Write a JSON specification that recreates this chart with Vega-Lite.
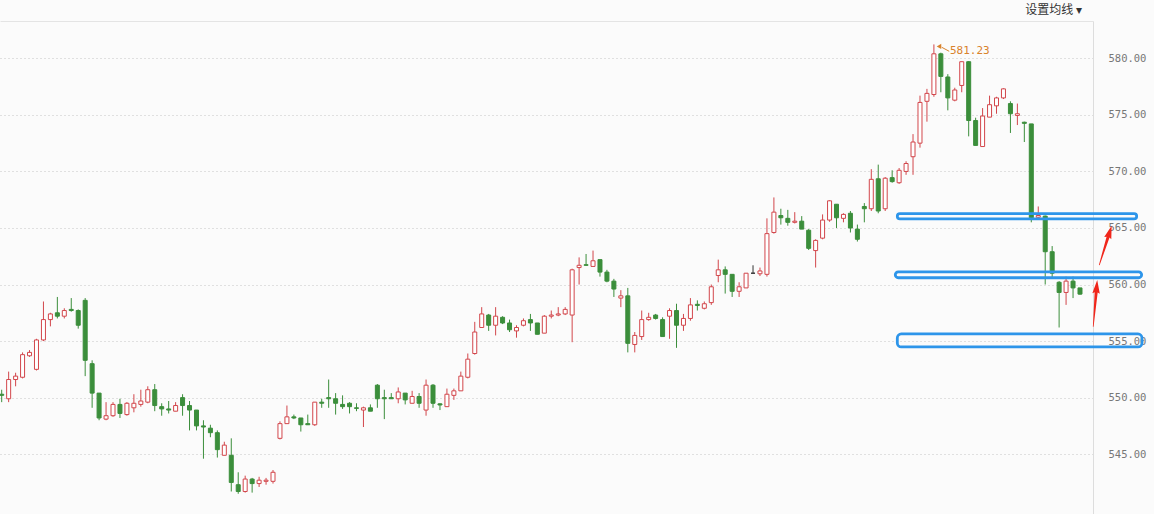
{
  "$schema": "https://vega.github.io/schema/vega-lite/v6.json",
  "width": 1093,
  "height": 493,
  "autosize": "none",
  "padding": {"left": 0, "top": 21, "right": 61, "bottom": 0},
  "background": "#fbfbfb",
  "config": {"view": {"stroke": null, "fill": "#fbfbfb"}, "scale": {"continuousPadding": 0}},
  "title": {"text": "设置均线 ▾", "anchor": "end", "frame": "group", "orient": "top", "offset": 4, "dx": -11, "font": "Noto Sans CJK SC", "fontSize": 12, "fontWeight": "normal", "color": "#333333"},
  "datasets": {
    "candles": [
      {"i":1,"o":550.3,"c":550.2,"h":550.7,"l":549.6},
      {"i":2,"o":549.9,"c":551.6,"h":552.3,"l":549.6},
      {"i":3,"o":551.6,"c":551.9,"h":552.2,"l":551.0},
      {"i":4,"o":551.8,"c":553.8,"h":554.0,"l":551.7},
      {"i":5,"o":553.7,"c":554.0,"h":554.2,"l":553.6},
      {"i":6,"o":552.5,"c":555.1,"h":555.2,"l":552.4},
      {"i":7,"o":555.1,"c":556.9,"h":558.5,"l":555.0},
      {"i":8,"o":556.9,"c":557.4,"h":557.5,"l":556.3},
      {"i":9,"o":557.5,"c":557.2,"h":558.9,"l":557.0},
      {"i":10,"o":557.2,"c":557.7,"h":557.9,"l":557.0},
      {"i":11,"o":557.8,"c":557.7,"h":558.8,"l":557.6},
      {"i":12,"o":557.7,"c":556.4,"h":557.8,"l":556.1},
      {"i":13,"o":558.6,"c":553.3,"h":558.8,"l":551.9},
      {"i":14,"o":553.0,"c":550.4,"h":553.3,"l":549.1},
      {"i":15,"o":550.4,"c":548.2,"h":550.4,"l":548.0},
      {"i":16,"o":548.1,"c":548.4,"h":549.6,"l":548.0},
      {"i":17,"o":548.4,"c":549.4,"h":549.6,"l":548.3},
      {"i":18,"o":549.4,"c":548.6,"h":549.9,"l":548.2},
      {"i":19,"o":548.5,"c":549.5,"h":549.6,"l":548.4},
      {"i":20,"o":549.1,"c":549.5,"h":550.3,"l":548.7},
      {"i":21,"o":549.4,"c":549.7,"h":550.7,"l":549.2},
      {"i":22,"o":549.6,"c":550.7,"h":551.0,"l":549.5},
      {"i":23,"o":550.7,"c":549.3,"h":551.2,"l":548.8},
      {"i":24,"o":549.2,"c":549.0,"h":549.5,"l":548.4},
      {"i":25,"o":549.0,"c":548.9,"h":549.7,"l":548.6},
      {"i":26,"o":548.8,"c":549.3,"h":549.6,"l":548.8},
      {"i":27,"o":550.0,"c":549.3,"h":550.3,"l":548.4},
      {"i":28,"o":549.3,"c":548.9,"h":549.7,"l":547.1},
      {"i":29,"o":548.9,"c":547.5,"h":548.9,"l":547.1},
      {"i":30,"o":547.5,"c":547.4,"h":548.0,"l":544.6},
      {"i":31,"o":547.3,"c":546.9,"h":547.6,"l":546.5},
      {"i":32,"o":546.9,"c":545.4,"h":547.1,"l":544.7},
      {"i":33,"o":544.9,"c":545.8,"h":546.1,"l":544.9},
      {"i":34,"o":544.9,"c":542.5,"h":546.4,"l":541.7},
      {"i":35,"o":542.3,"c":541.7,"h":543.4,"l":541.5},
      {"i":36,"o":541.7,"c":542.8,"h":543.1,"l":541.6},
      {"i":37,"o":542.8,"c":542.4,"h":542.9,"l":541.6},
      {"i":38,"o":542.4,"c":542.7,"h":543.0,"l":542.1},
      {"i":39,"o":542.6,"c":542.7,"h":542.9,"l":542.3},
      {"i":40,"o":542.6,"c":543.4,"h":543.6,"l":542.4},
      {"i":41,"o":546.4,"c":547.7,"h":547.9,"l":546.3},
      {"i":42,"o":547.7,"c":548.3,"h":549.3,"l":547.7},
      {"i":43,"o":548.3,"c":548.2,"h":548.5,"l":548.1},
      {"i":44,"o":548.2,"c":547.6,"h":548.2,"l":547.0},
      {"i":45,"o":547.7,"c":547.6,"h":548.5,"l":547.6},
      {"i":46,"o":547.6,"c":549.6,"h":549.6,"l":547.5},
      {"i":47,"o":549.6,"c":549.5,"h":549.9,"l":549.1},
      {"i":48,"o":550.0,"c":549.9,"h":551.6,"l":549.1},
      {"i":49,"o":549.9,"c":549.5,"h":550.4,"l":548.5},
      {"i":50,"o":549.4,"c":549.2,"h":550.2,"l":549.0},
      {"i":51,"o":549.5,"c":549.2,"h":549.6,"l":548.6},
      {"i":52,"o":549.1,"c":549.05,"h":549.5,"l":548.8},
      {"i":53,"o":548.9,"c":549.1,"h":549.2,"l":547.4},
      {"i":54,"o":549.1,"c":548.8,"h":549.4,"l":548.8},
      {"i":55,"o":551.1,"c":549.9,"h":551.2,"l":549.1},
      {"i":56,"o":550.0,"c":549.9,"h":550.7,"l":548.1},
      {"i":57,"o":550.0,"c":549.9,"h":550.4,"l":549.9},
      {"i":58,"o":549.9,"c":550.5,"h":550.9,"l":549.5},
      {"i":59,"o":550.4,"c":549.8,"h":550.4,"l":549.4},
      {"i":60,"o":549.5,"c":550.1,"h":550.6,"l":549.5},
      {"i":61,"o":550.1,"c":549.5,"h":550.4,"l":549.1},
      {"i":62,"o":548.9,"c":551.1,"h":551.6,"l":548.4},
      {"i":63,"o":551.1,"c":549.5,"h":551.2,"l":549.1},
      {"i":64,"o":549.45,"c":549.35,"h":549.5,"l":548.9},
      {"i":65,"o":549.2,"c":550.3,"h":550.8,"l":549.2},
      {"i":66,"o":550.2,"c":550.6,"h":550.8,"l":549.8},
      {"i":67,"o":550.6,"c":551.9,"h":552.3,"l":550.6},
      {"i":68,"o":551.8,"c":553.4,"h":553.9,"l":551.7},
      {"i":69,"o":553.9,"c":555.8,"h":556.7,"l":553.8},
      {"i":70,"o":556.2,"c":557.4,"h":558.0,"l":556.2},
      {"i":71,"o":557.3,"c":556.4,"h":557.4,"l":555.9},
      {"i":72,"o":556.4,"c":557.2,"h":558.0,"l":555.5},
      {"i":73,"o":557.1,"c":556.6,"h":557.2,"l":556.5},
      {"i":74,"o":556.6,"c":556.0,"h":556.9,"l":555.8},
      {"i":75,"o":555.9,"c":556.2,"h":556.4,"l":555.3},
      {"i":76,"o":556.4,"c":556.8,"h":557.0,"l":556.3},
      {"i":77,"o":556.9,"c":556.6,"h":557.4,"l":555.9},
      {"i":78,"o":556.6,"c":555.6,"h":556.6,"l":555.6},
      {"i":79,"o":555.7,"c":557.2,"h":557.3,"l":555.7},
      {"i":80,"o":557.2,"c":557.3,"h":557.7,"l":557.0},
      {"i":81,"o":557.3,"c":557.4,"h":558.0,"l":557.2},
      {"i":82,"o":557.4,"c":557.8,"h":558.0,"l":557.3},
      {"i":83,"o":557.3,"c":561.3,"h":561.4,"l":554.9},
      {"i":84,"o":561.5,"c":561.7,"h":562.4,"l":560.0},
      {"i":85,"o":561.75,"c":561.7,"h":562.7,"l":561.65},
      {"i":86,"o":561.6,"c":562.1,"h":563.0,"l":561.6},
      {"i":87,"o":562.2,"c":561.1,"h":562.2,"l":560.7},
      {"i":88,"o":561.1,"c":560.3,"h":561.3,"l":560.2},
      {"i":89,"o":560.3,"c":559.6,"h":560.5,"l":558.9},
      {"i":90,"o":558.8,"c":559.0,"h":559.5,"l":558.0},
      {"i":91,"o":559.0,"c":554.8,"h":559.7,"l":554.0},
      {"i":92,"o":554.7,"c":555.5,"h":555.8,"l":554.0},
      {"i":93,"o":555.4,"c":556.9,"h":557.7,"l":555.1},
      {"i":94,"o":556.9,"c":557.1,"h":557.5,"l":556.8},
      {"i":95,"o":557.3,"c":557.0,"h":557.4,"l":556.9},
      {"i":96,"o":556.9,"c":555.4,"h":557.1,"l":555.4},
      {"i":97,"o":557.2,"c":557.7,"h":557.9,"l":555.2},
      {"i":98,"o":557.7,"c":556.4,"h":558.3,"l":554.4},
      {"i":99,"o":556.4,"c":557.0,"h":557.4,"l":555.9},
      {"i":100,"o":557.0,"c":558.2,"h":558.8,"l":556.8},
      {"i":101,"o":558.25,"c":558.15,"h":558.6,"l":557.7},
      {"i":102,"o":557.9,"c":558.3,"h":558.5,"l":557.8},
      {"i":103,"o":558.4,"c":559.8,"h":560.0,"l":558.2},
      {"i":104,"o":560.8,"c":561.3,"h":562.2,"l":560.2},
      {"i":105,"o":561.3,"c":560.9,"h":561.6,"l":559.2},
      {"i":106,"o":560.9,"c":559.4,"h":560.9,"l":558.9},
      {"i":107,"o":559.4,"c":559.8,"h":560.2,"l":558.9},
      {"i":108,"o":559.7,"c":561.0,"h":561.0,"l":559.7},
      {"i":109,"o":561.0,"c":561.0,"h":561.7,"l":561.0},
      {"i":110,"o":560.95,"c":561.2,"h":561.5,"l":560.75},
      {"i":111,"o":560.9,"c":564.5,"h":565.85,"l":560.7},
      {"i":112,"o":564.6,"c":566.4,"h":567.7,"l":564.5},
      {"i":113,"o":566.1,"c":565.9,"h":566.7,"l":565.3},
      {"i":114,"o":565.85,"c":565.5,"h":566.6,"l":565.2},
      {"i":115,"o":565.5,"c":565.6,"h":566.4,"l":565.4},
      {"i":116,"o":565.6,"c":564.9,"h":566.05,"l":564.9},
      {"i":117,"o":564.8,"c":563.2,"h":564.9,"l":563.05},
      {"i":118,"o":563.0,"c":563.9,"h":564.0,"l":561.5},
      {"i":119,"o":564.1,"c":565.7,"h":566.2,"l":564.0},
      {"i":120,"o":565.7,"c":567.4,"h":567.45,"l":565.55},
      {"i":121,"o":567.1,"c":565.9,"h":567.1,"l":565.0},
      {"i":122,"o":565.85,"c":566.2,"h":566.3,"l":565.5},
      {"i":123,"o":566.3,"c":565.0,"h":566.5,"l":564.6},
      {"i":124,"o":564.9,"c":564.0,"h":565.3,"l":563.8},
      {"i":125,"o":566.9,"c":566.7,"h":567.2,"l":565.5},
      {"i":126,"o":566.7,"c":569.3,"h":570.2,"l":566.5},
      {"i":127,"o":569.35,"c":566.5,"h":570.6,"l":566.3},
      {"i":128,"o":566.7,"c":569.4,"h":569.5,"l":566.5},
      {"i":129,"o":569.45,"c":569.1,"h":570.1,"l":569.0},
      {"i":130,"o":569.0,"c":570.1,"h":570.3,"l":568.9},
      {"i":131,"o":570.0,"c":570.7,"h":570.9,"l":569.7},
      {"i":132,"o":571.3,"c":572.6,"h":573.3,"l":569.7},
      {"i":133,"o":572.5,"c":576.1,"h":576.7,"l":572.1},
      {"i":134,"o":576.2,"c":576.9,"h":577.3,"l":574.4},
      {"i":135,"o":576.8,"c":580.4,"h":581.23,"l":576.6},
      {"i":136,"o":580.4,"c":578.4,"h":580.5,"l":577.0},
      {"i":137,"o":578.35,"c":576.5,"h":578.6,"l":575.4},
      {"i":138,"o":576.3,"c":577.2,"h":577.4,"l":576.2},
      {"i":139,"o":577.6,"c":579.7,"h":579.7,"l":577.0},
      {"i":140,"o":579.7,"c":574.5,"h":579.75,"l":573.1},
      {"i":141,"o":574.5,"c":572.3,"h":574.75,"l":572.3},
      {"i":142,"o":572.2,"c":574.9,"h":575.6,"l":572.2},
      {"i":143,"o":574.8,"c":575.9,"h":576.7,"l":574.8},
      {"i":144,"o":575.8,"c":576.5,"h":576.6,"l":575.1},
      {"i":145,"o":576.5,"c":577.3,"h":577.35,"l":576.4},
      {"i":146,"o":576.0,"c":575.1,"h":576.2,"l":573.4},
      {"i":147,"o":574.95,"c":575.1,"h":576.0,"l":574.1},
      {"i":148,"o":574.35,"c":574.25,"h":574.4,"l":572.6},
      {"i":149,"o":574.2,"c":565.9,"h":574.2,"l":565.5},
      {"i":150,"o":565.95,"c":566.1,"h":566.9,"l":565.8},
      {"i":151,"o":566.05,"c":562.9,"h":566.1,"l":560.0},
      {"i":152,"o":562.9,"c":561.0,"h":563.4,"l":560.5},
      {"i":153,"o":560.2,"c":559.3,"h":560.3,"l":556.2},
      {"i":154,"o":559.3,"c":560.3,"h":560.7,"l":558.2},
      {"i":155,"o":560.3,"c":559.7,"h":560.7,"l":558.8},
      {"i":156,"o":559.7,"c":559.15,"h":559.7,"l":559.1}
    ],
    "zones": [
      {"x1":129.74,"x2":164.15,"y1":566.27,"y2":565.80},
      {"x1":129.45,"x2":164.86,"y1":561.12,"y2":560.60},
      {"x1":129.74,"x2":164.91,"y1":555.63,"y2":554.48}
    ],
    "arrow1": [{"i":159.66,"v":563.46}],
    "arrow2": [{"i":158.19,"v":558.34}],
    "maxLabel": [{"i":137.31,"v":580.65,"label":"581.23"}],
    "maxLeader": [{"i":136.12,"v":580.98,"i2":137.2,"v2":580.62}],
    "maxMark": [{"i":135.73,"v":581.05}]
  },
  "layer": [
    {
      "data": {"name": "candles"},
      "mark": {"type": "rule", "strokeWidth": 1},
      "encoding": {
        "x": {"field": "i", "type": "quantitative", "scale": {"domain": [0.756, 157.87], "nice": false, "zero": false, "padding": 0},
              "axis": {"orient": "top", "title": null, "labels": false, "ticks": false, "grid": false, "domain": true, "domainColor": "#e4e4e4", "domainWidth": 1}},
        "y": {"field": "l", "type": "quantitative", "scale": {"domain": [539.71, 583.30], "nice": false, "zero": false, "padding": 0},
              "axis": {"orient": "right", "title": null, "values": [545, 550, 555, 560, 565, 570, 575, 580], "format": ".2f",
                       "ticks": false, "labelPadding": 15, "labelFont": "DejaVu Sans Mono", "labelFontSize": 10.5, "labelColor": "#777777",
                       "domain": true, "domainColor": "#dddddd", "grid": true, "gridColor": "#c4c4c4", "gridDash": [1, 3], "gridWidth": 1}},
        "y2": {"field": "h"},
        "color": {"condition": [{"test": "datum.c > datum.o", "value": "#d2464b"}, {"test": "datum.c < datum.o", "value": "#3b8e3b"}], "value": "#333333"}
      }
    },
    {
      "data": {"name": "candles"},
      "mark": {"type": "bar", "size": 4, "strokeWidth": 1},
      "encoding": {
        "x": {"field": "i", "type": "quantitative", "scale": {"domain": [0.756, 157.87], "nice": false, "zero": false, "padding": 0}},
        "y": {"field": "o", "type": "quantitative", "scale": {"domain": [539.71, 583.30], "nice": false, "zero": false, "padding": 0}},
        "y2": {"field": "c"},
        "fill": {"condition": [{"test": "datum.c > datum.o", "value": "#ffffff"}, {"test": "datum.c < datum.o", "value": "#3b8e3b"}], "value": "#333333"},
        "stroke": {"condition": [{"test": "datum.c > datum.o", "value": "#d2464b"}, {"test": "datum.c < datum.o", "value": "#3b8e3b"}], "value": "#333333"}
      }
    },
    {
      "data": {"name": "zones"},
      "mark": {"type": "rect", "fill": "transparent", "stroke": "#2d95ea", "strokeWidth": 2.8, "cornerRadius": 4},
      "encoding": {
        "x": {"field": "x1", "type": "quantitative", "scale": {"domain": [0.756, 157.87], "nice": false, "zero": false, "padding": 0}},
        "x2": {"field": "x2"},
        "y": {"field": "y1", "type": "quantitative", "scale": {"domain": [539.71, 583.30], "nice": false, "zero": false, "padding": 0}},
        "y2": {"field": "y2"}
      }
    },
    {
      "data": {"name": "arrow1"},
      "mark": {"type": "point", "filled": true, "opacity": 1, "color": "#f0261b", "strokeWidth": 0, "size": 1697, "angle": 17.5,
               "shape": "M0,-1L0.18,-0.37L0.075,-0.42L0.018,1L-0.018,1L-0.075,-0.42L-0.18,-0.37Z"},
      "encoding": {
        "x": {"field": "i", "type": "quantitative", "scale": {"domain": [0.756, 157.87], "nice": false, "zero": false, "padding": 0}},
        "y": {"field": "v", "type": "quantitative", "scale": {"domain": [539.71, 583.30], "nice": false, "zero": false, "padding": 0}}
      }
    },
    {
      "data": {"name": "arrow2"},
      "mark": {"type": "point", "filled": true, "opacity": 1, "color": "#f0261b", "strokeWidth": 0, "size": 2200, "angle": 4.9,
               "shape": "M0,-1L0.16,-0.42L0.065,-0.47L0.015,1L-0.015,1L-0.065,-0.47L-0.16,-0.42Z"},
      "encoding": {
        "x": {"field": "i", "type": "quantitative", "scale": {"domain": [0.756, 157.87], "nice": false, "zero": false, "padding": 0}},
        "y": {"field": "v", "type": "quantitative", "scale": {"domain": [539.71, 583.30], "nice": false, "zero": false, "padding": 0}}
      }
    },
    {
      "data": {"name": "maxLeader"},
      "mark": {"type": "rule", "color": "#d9822b", "strokeWidth": 1},
      "encoding": {
        "x": {"field": "i", "type": "quantitative", "scale": {"domain": [0.756, 157.87], "nice": false, "zero": false, "padding": 0}},
        "y": {"field": "v", "type": "quantitative", "scale": {"domain": [539.71, 583.30], "nice": false, "zero": false, "padding": 0}},
        "x2": {"field": "i2"},
        "y2": {"field": "v2"}
      }
    },
    {
      "data": {"name": "maxMark"},
      "mark": {"type": "point", "shape": "triangle-left", "filled": true, "opacity": 1, "color": "#d9822b", "size": 28},
      "encoding": {
        "x": {"field": "i", "type": "quantitative", "scale": {"domain": [0.756, 157.87], "nice": false, "zero": false, "padding": 0}},
        "y": {"field": "v", "type": "quantitative", "scale": {"domain": [539.71, 583.30], "nice": false, "zero": false, "padding": 0}}
      }
    },
    {
      "data": {"name": "maxLabel"},
      "mark": {"type": "text", "align": "left", "baseline": "middle", "font": "DejaVu Sans Mono", "fontSize": 11, "color": "#d9822b"},
      "encoding": {
        "x": {"field": "i", "type": "quantitative", "scale": {"domain": [0.756, 157.87], "nice": false, "zero": false, "padding": 0}},
        "y": {"field": "v", "type": "quantitative", "scale": {"domain": [539.71, 583.30], "nice": false, "zero": false, "padding": 0}},
        "text": {"field": "label"}
      }
    }
  ]
}
